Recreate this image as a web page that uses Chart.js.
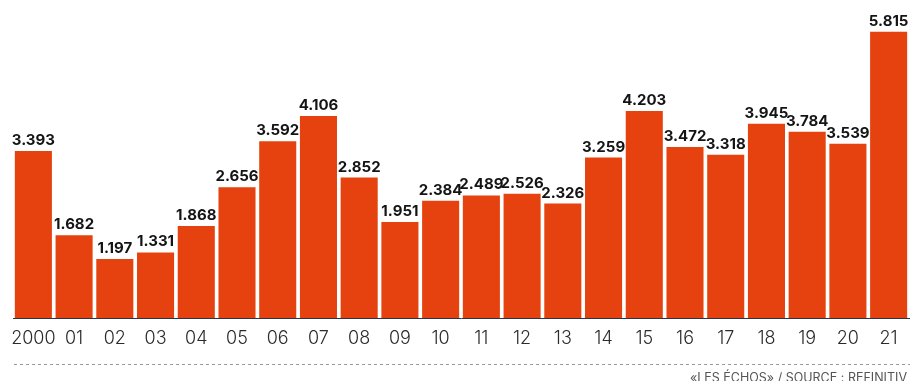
<!DOCTYPE html>
<html lang="fr">
<head>
  <meta charset="UTF-8">
  <title>Chart</title>
  <script src="https://cdn.jsdelivr.net/npm/chart.js"></script>
  <style>
    html, body { margin: 0; padding: 0; background: #fff; }
    #wrap { position: relative; width: 923px; height: 381px; }
  </style>
</head>
<body>
  <div id="wrap"><canvas id="c"></canvas></div>
  <script>
    const years = ["2000", "01", "02", "03", "04", "05", "06", "07", "08", "09", "10",
                   "11", "12", "13", "14", "15", "16", "17", "18", "19", "20", "21"];
    const values = [3.393, 1.682, 1.197, 1.331, 1.868, 2.656, 3.592, 4.106, 2.852, 1.951, 2.384,
                    2.489, 2.526, 2.326, 3.259, 4.203, 3.472, 3.318, 3.945, 3.784, 3.539, 5.815];
    const valueLabels = values.map(v => v.toFixed(3));
    const sourceText = "«LES ÉCHOS» / SOURCE : REFINITIV";

    const extras = {
      id: "extras",
      afterDatasetsDraw(chart) {
        const ctx = chart.ctx;
        const meta = chart.getDatasetMeta(0);
        ctx.save();
        ctx.fillStyle = "#141414";
        ctx.font = "700 15px Inter";
        ctx.textAlign = "center";
        ctx.textBaseline = "alphabetic";
        meta.data.forEach((bar, i) => {
          ctx.fillText(valueLabels[i], bar.x, bar.y - 6);
        });
        // dashed rule
        ctx.strokeStyle = "#9a9a9a";
        ctx.lineWidth = 1;
        ctx.setLineDash([3, 3]);
        ctx.beginPath();
        ctx.moveTo(14, 364.5);
        ctx.lineTo(910, 364.5);
        ctx.stroke();
        ctx.setLineDash([]);
        // source
        ctx.fillStyle = "#555";
        ctx.font = "400 12.5px Inter";
        ctx.textAlign = "right";
        ctx.fillText(sourceText, 907, 382);
        ctx.restore();
      }
    };

    new Chart(document.getElementById("c"), {
      type: "bar",
      data: {
        labels: years,
        datasets: [{
          data: values,
          backgroundColor: "#E5420F",
          categoryPercentage: 1,
          barPercentage: 0.91
        }]
      },
      options: {
        responsive: true,
        maintainAspectRatio: false,
        animation: false,
        layout: { padding: { left: 13, right: 14, top: 0, bottom: 0 } },
        plugins: { legend: { display: false }, tooltip: { enabled: false } },
        scales: {
          x: {
            grid: { display: false, drawTicks: false },
            border: { display: true, color: "#2a3545", width: 1 },
            ticks: {
              color: "#2b2b2b",
              font: { family: "Inter", size: 18, weight: 300 },
              padding: 10,
              maxRotation: 0,
              autoSkip: false
            },
            afterFit(s) { s.height = 63; }
          },
          y: {
            display: false,
            min: 0,
            max: 6.46
          }
        }
      },
      plugins: [extras]
    });
  </script>
</body>
</html>
